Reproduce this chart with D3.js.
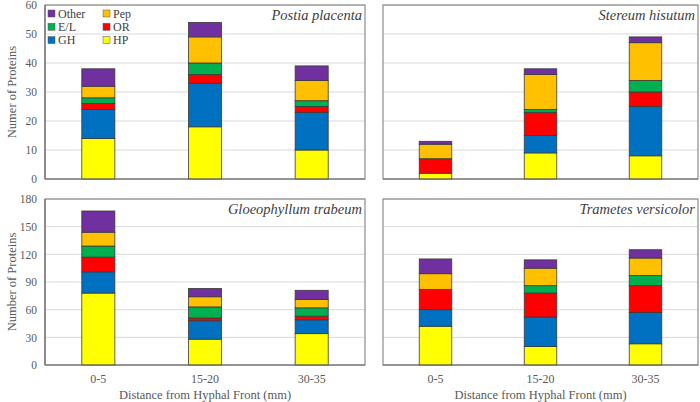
<!DOCTYPE html>
<html>
<head>
<meta charset="utf-8">
<script src="https://cdn.jsdelivr.net/npm/d3@7"></script>
<style>
  html, body { margin: 0; padding: 0; background: #fff; }
  svg, svg text { font-family: "Liberation Serif", "Times New Roman", Tinos, Times, "DejaVu Serif", serif !important; }
</style>
</head>
<body>
<svg id="chart" width="700" height="402"></svg>
<script>
// ---- Data ----
const categories = ["0-5", "15-20", "30-35"];
const seriesNames = ["HP", "GH", "OR", "E/L", "Pep", "Other"];
const seriesColors = ["#FFFF00", "#0070C0", "#FF0000", "#00B050", "#FFC000", "#7030A0"];
const legendOrder = ["Other", "Pep", "E/L", "OR", "GH", "HP"];

// values per category, in seriesNames order: HP, GH, OR, E/L, Pep, Other
const postiaPlacenta      = [[14, 10, 2, 2, 4, 6], [18, 15, 3, 4, 9, 5], [10, 13, 2, 2, 7, 5]];
const stereumHisutum      = [[2, 0, 5, 0, 5, 1], [9, 6, 8, 1, 12, 2], [8, 17, 5, 4, 13, 2]];
const gloeophyllumTrabeum = [[78, 23, 16, 12, 15, 23], [28, 20, 3, 12, 11, 9], [34, 15, 4, 9, 9, 10]];
const trametesVersicolor  = [[42, 18, 22, 0, 17, 16], [20, 32, 26, 8, 19, 9], [23, 34, 29, 11, 19, 9]];

const topTicks = [0, 10, 20, 30, 40, 50, 60];
const bottomTicks = [0, 30, 60, 90, 120, 150, 180];

const panels = [
  { title: "Postia placenta", data: postiaPlacenta, x0: 45, x1: 365, y0: 5, y1: 179, max: 60, ticks: topTicks, yAxis: true, yLabel: "Numer of Proteins", xAxis: false, legend: true },
  { title: "Stereum hisutum", data: stereumHisutum, x0: 383, x1: 698, y0: 5, y1: 179, max: 60, ticks: topTicks, yAxis: false, xAxis: false },
  { title: "Gloeophyllum trabeum", data: gloeophyllumTrabeum, x0: 45, x1: 365, y0: 199, y1: 365, max: 180, ticks: bottomTicks, yAxis: true, yLabel: "Number of Proteins", xAxis: true },
  { title: "Trametes versicolor", data: trametesVersicolor, x0: 383, x1: 698, y0: 199, y1: 365, max: 180, ticks: bottomTicks, yAxis: false, xAxis: true }
];

const FONT = "Liberation Serif, Times New Roman, serif";
const svg = d3.select("#chart");
const color = d3.scaleOrdinal().domain(seriesNames).range(seriesColors);

panels.forEach(p => {
  const g = svg.append("g").attr("font-family", FONT);
  const x = d3.scaleBand().domain(categories).range([p.x0, p.x1]).paddingInner(0.69).paddingOuter(0.345);
  const y = d3.scaleLinear().domain([0, p.max]).range([p.y1, p.y0]);

  // gridlines
  g.append("g").selectAll("line").data(p.ticks.filter(t => t > 0)).join("line")
    .attr("x1", p.x0).attr("x2", p.x1)
    .attr("y1", d => y(d)).attr("y2", d => y(d))
    .attr("stroke", "#d9d9d9").attr("stroke-width", 1);

  // frame
  g.append("rect").attr("x", p.x0).attr("y", p.y0)
    .attr("width", p.x1 - p.x0).attr("height", p.y1 - p.y0)
    .attr("fill", "none").attr("stroke", "#8c8c8c").attr("stroke-width", 1.2);

  // stacked bars
  const rows = categories.map((c, i) => {
    const o = { cat: c };
    seriesNames.forEach((s, j) => o[s] = p.data[i][j]);
    return o;
  });
  const stacked = d3.stack().keys(seriesNames)(rows);
  g.append("g").selectAll("g").data(stacked).join("g")
    .attr("fill", d => color(d.key))
    .selectAll("rect").data(d => d.filter(v => v[1] > v[0])).join("rect")
    .attr("x", d => x(d.data.cat))
    .attr("width", x.bandwidth())
    .attr("y", d => y(d[1]))
    .attr("height", d => y(d[0]) - y(d[1]))
    .attr("stroke", "#3a3a3a").attr("stroke-width", 0.8);

  // bottom axis line
  g.append("line").attr("x1", p.x0).attr("x2", p.x1).attr("y1", p.y1).attr("y2", p.y1)
    .attr("stroke", "#6e6e6e").attr("stroke-width", 1.2);

  if (p.yAxis) {
    g.append("line").attr("x1", p.x0).attr("x2", p.x0).attr("y1", p.y0).attr("y2", p.y1)
      .attr("stroke", "#6e6e6e").attr("stroke-width", 1.2);
    const ax = d3.axisLeft(y).tickValues(p.ticks).tickSize(0).tickPadding(8);
    const axg = g.append("g").attr("transform", `translate(${p.x0},0)`).call(ax);
    axg.attr("font-family", FONT);
    axg.select(".domain").remove();
    axg.selectAll("text").attr("font-size", 11.5).attr("fill", "#595959");
    g.append("text")
      .attr("transform", `translate(16,${(p.y0 + p.y1) / 2}) rotate(-90)`)
      .attr("text-anchor", "middle")
      .attr("font-size", 12.5).attr("fill", "#595959")
      .text(p.yLabel);
  }

  if (p.xAxis) {
    const ax = d3.axisBottom(x).tickSize(0).tickPadding(9);
    const axg = g.append("g").attr("transform", `translate(0,${p.y1})`).call(ax);
    axg.attr("font-family", FONT);
    axg.select(".domain").remove();
    axg.selectAll("text").attr("font-size", 12).attr("fill", "#595959");
    g.append("text")
      .attr("x", (p.x0 + p.x1) / 2).attr("y", 398.5)
      .attr("text-anchor", "middle")
      .attr("font-size", 12.5).attr("fill", "#595959")
      .text("Distance from Hyphal Front (mm)");
  }

  // panel title
  g.append("text")
    .attr("x", p.x1 - 3).attr("y", p.y0 + 15)
    .attr("text-anchor", "end")
    .attr("font-style", "italic").attr("font-size", 14.5).attr("fill", "#404040")
    .text(p.title);

  if (p.legend) {
    const lg = g.append("g");
    legendOrder.forEach((name, i) => {
      const col = i % 2, row = Math.floor(i / 2);
      const lx = p.x0 + 3 + col * 55, ly = p.y0 + 8.5 + row * 13.3;
      lg.append("rect").attr("x", lx).attr("y", ly - 3.5).attr("width", 7).attr("height", 7)
        .attr("fill", color(name)).attr("stroke", "#555").attr("stroke-width", 0.5);
      lg.append("text").attr("x", lx + 10).attr("y", ly + 4)
        .attr("font-size", 12).attr("fill", "#404040").text(name);
    });
  }
});
</script>
</body>
</html>
